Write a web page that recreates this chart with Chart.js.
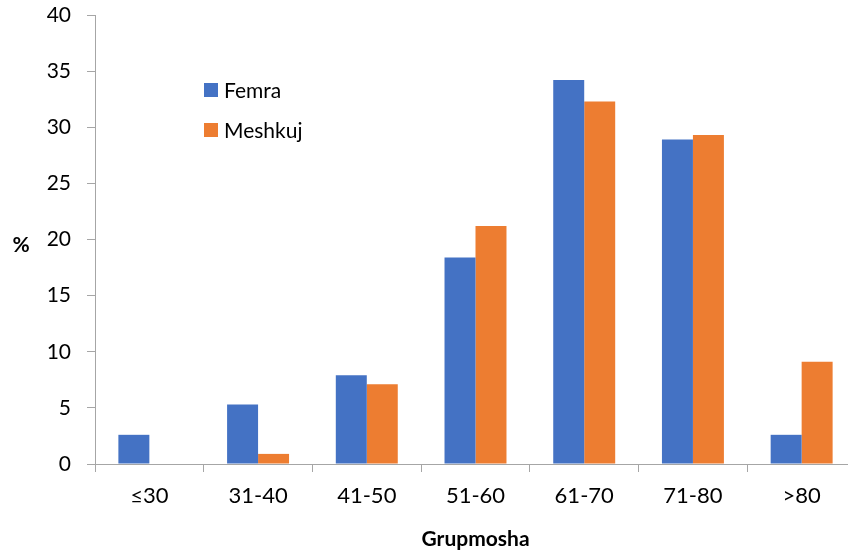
<!DOCTYPE html>
<html>
<head>
<meta charset="utf-8">
<script src="https://cdn.jsdelivr.net/npm/chart.js@4.4.0/dist/chart.umd.min.js"></script>
<style>
  html, body { margin: 0; padding: 0; background: #fff; overflow: hidden; }
  #wrap { width: 848px; height: 552px; overflow: hidden; }
</style>
</head>
<body>
<div id="wrap"><canvas id="chart_g" width="856" height="552"></canvas></div>
<script>
var ageGroups = ['≤30', '31-40', '41-50', '51-60', '61-70', '71-80', '>80'];
var femra = [2.6, 5.3, 7.9, 18.4, 34.2, 28.9, 2.6];
var meshkuj = [0, 0.9, 7.1, 21.2, 32.3, 29.3, 9.1];
var seriesNames = ['Femra', 'Meshkuj'];
var seriesColors = ['#4472C4', '#ED7D31'];
var yTicks = [0, 5, 10, 15, 20, 25, 30, 35, 40];

var fontName = 'Lato, "Open Sans", sans-serif';
var axisGray = '#A6A6A6';

// legend sits inside the plot, stacked, like the original
var insideLegend = {
    id: 'insideLegend',
    afterDraw: function(chart){
        var ctx = chart.ctx;
        ctx.save();
        ctx.font = '21px ' + fontName;
        ctx.textBaseline = 'middle';
        chart.data.datasets.forEach(function(ds, i){
            var y = 90 + i * 40;
            ctx.fillStyle = ds.backgroundColor;
            ctx.fillRect(204, y - 7, 14, 14);
            ctx.fillStyle = '#000';
            ctx.fillText(ds.label, 224, y + 1);
        });
        // y title is horizontal in the original
        ctx.font = 'bold 21px ' + fontName;
        ctx.textAlign = 'center';
        ctx.fillText('%', 21, 245);
        ctx.restore();
    }
};

new Chart(document.getElementById('chart_g'), {
    type: 'bar',
    data: {
        labels: ageGroups,
        datasets: [
            { label: seriesNames[0], data: femra, backgroundColor: seriesColors[0] },
            { label: seriesNames[1], data: meshkuj, backgroundColor: seriesColors[1] }
        ]
    },
    options: {
        responsive: false,
        animation: false,
        layout: { padding: { top: 15, right: 0, left: 0, bottom: 0 } },
        datasets: { bar: { categoryPercentage: 0.57, barPercentage: 1.0 } },
        plugins: { legend: { display: false }, tooltip: { enabled: false } },
        scales: {
            x: {
                grid: { display: true, drawOnChartArea: false, drawTicks: true, tickLength: 8, color: axisGray, offset: true },
                border: { color: axisGray, width: 1 },
                ticks: { color: '#000', font: { family: fontName, size: 22 }, padding: 11, maxRotation: 0 },
                title: { display: true, text: 'Grupmosha', color: '#000', font: { family: fontName, size: 21, weight: 'bold' }, padding: { top: 3, bottom: 0 } },
                afterFit: function(scale){
                    scale.height = 88;
                    scale.paddingLeft = 0;
                    scale.paddingRight = 0;
                }
            },
            y: {
                min: 0, max: 40,
                afterBuildTicks: function(scale){
                    scale.ticks = yTicks.map(function(v){ return { value: v }; });
                },
                grid: { display: true, drawOnChartArea: false, drawTicks: true, tickLength: 8, color: axisGray },
                border: { color: axisGray, width: 1 },
                ticks: { color: '#000', font: { family: fontName, size: 21 }, padding: 16 },
                afterFit: function(scale){
                    scale.width = 95;
                    scale.paddingTop = 0;
                    scale.paddingBottom = 0;
                }
            }
        }
    },
    plugins: [insideLegend]
});
</script>
</body>
</html>
